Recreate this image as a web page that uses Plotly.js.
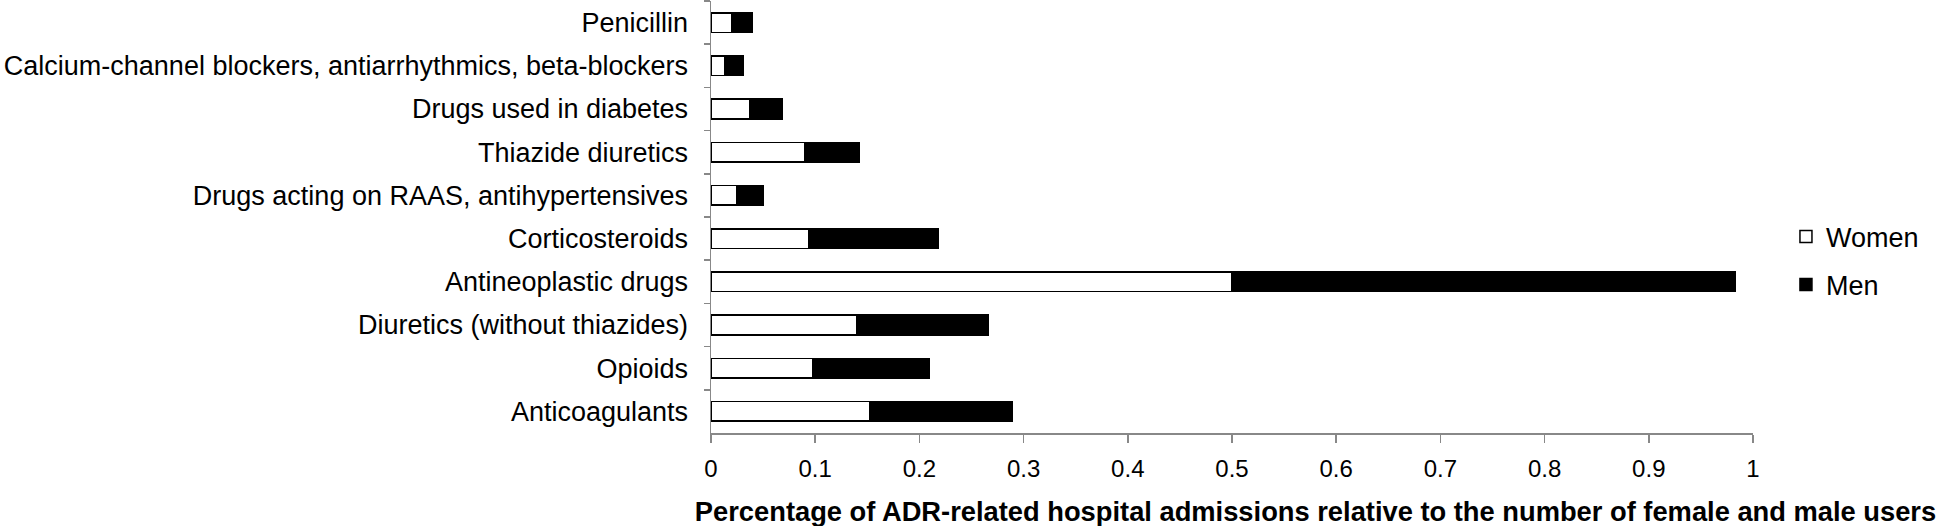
<!DOCTYPE html>
<html>
<head>
<meta charset="utf-8">
<script src="https://cdn.plot.ly/plotly-3.0.1.min.js"></script>
<style>html,body{margin:0;padding:0;background:#fff;}#chart{width:1936px;height:526px;}</style>
</head>
<body>
<div id="chart"></div>
<script>
var categories = [
  'Penicillin',
  'Calcium-channel blockers, antiarrhythmics, beta-blockers',
  'Drugs used in diabetes',
  'Thiazide diuretics',
  'Drugs acting on RAAS, antihypertensives',
  'Corticosteroids',
  'Antineoplastic drugs',
  'Diuretics (without thiazides)',
  'Opioids',
  'Anticoagulants'
];
var women = [0.020, 0.013, 0.037, 0.090, 0.025, 0.094, 0.500, 0.140, 0.098, 0.152];
var men   = [0.020, 0.018, 0.031, 0.052, 0.025, 0.124, 0.483, 0.126, 0.111, 0.137];
var xTickValues = [0, 0.1, 0.2, 0.3, 0.4, 0.5, 0.6, 0.7, 0.8, 0.9, 1];
var xTitle = 'Percentage of ADR-related hospital admissions relative to the number of female and male users';

var FONT = 'Liberation Sans, Arial, Helvetica, sans-serif';

var traces = [
  {
    type: 'bar', orientation: 'h', name: 'Women', legendgroup: 'w',
    y: categories, x: women,
    marker: {color: '#ffffff', line: {color: '#000000', width: 1.5}},
    hoverinfo: 'x+y+name'
  },
  {
    type: 'bar', orientation: 'h', name: 'Men', legendgroup: 'm',
    y: categories, x: men,
    marker: {color: '#000000', line: {color: '#000000', width: 1.5}},
    hoverinfo: 'x+y+name'
  }
];

var layout = {
  width: 1936, height: 526,
  paper_bgcolor: '#ffffff', plot_bgcolor: '#ffffff',
  margin: {l: 711, r: 183, t: 1, b: 93, pad: 0},
  barmode: 'stack',
  bargap: 0.545,
  font: {family: FONT, color: '#000000', size: 27},
  title: {
    text: '<b>' + xTitle + '</b>',
    font: {family: FONT, size: 27.3, color: '#000000'},
    xref: 'container', yref: 'container',
    x: 0.6795, xanchor: 'center',
    y: 0.028, yanchor: 'middle'
  },
  xaxis: {
    range: [0, 1],
    tickmode: 'array', tickvals: xTickValues,
    showgrid: false, zeroline: false,
    showline: true, linecolor: '#888888', linewidth: 1.5,
    ticks: 'outside', ticklen: 8, tickwidth: 1.5, tickcolor: '#888888',
    tickfont: {family: FONT, size: 24, color: '#000000'},
    ticklabelstandoff: 6,
    fixedrange: true
  },
  yaxis: {
    type: 'category',
    autorange: 'reversed',
    showgrid: false, zeroline: false,
    showline: true, linecolor: '#888888', linewidth: 1.5,
    ticks: 'outside', tickson: 'boundaries', ticklen: 6, tickwidth: 1.5, tickcolor: '#888888',
    tickfont: {family: FONT, size: 27, color: '#000000'},
    ticklabelstandoff: 16,
    fixedrange: true
  },
  legend: {
    xref: 'container', yref: 'container',
    x: 0.9225, xanchor: 'left',
    y: 0.504, yanchor: 'middle',
    traceorder: 'grouped',
    tracegroupgap: 10,
    font: {family: FONT, size: 27, color: '#000000'},
    bgcolor: 'rgba(0,0,0,0)',
    itemwidth: 30
  },
  showlegend: true
};

Plotly.newPlot('chart', traces, layout, {displayModeBar: false, staticPlot: true});
</script>
</body>
</html>
